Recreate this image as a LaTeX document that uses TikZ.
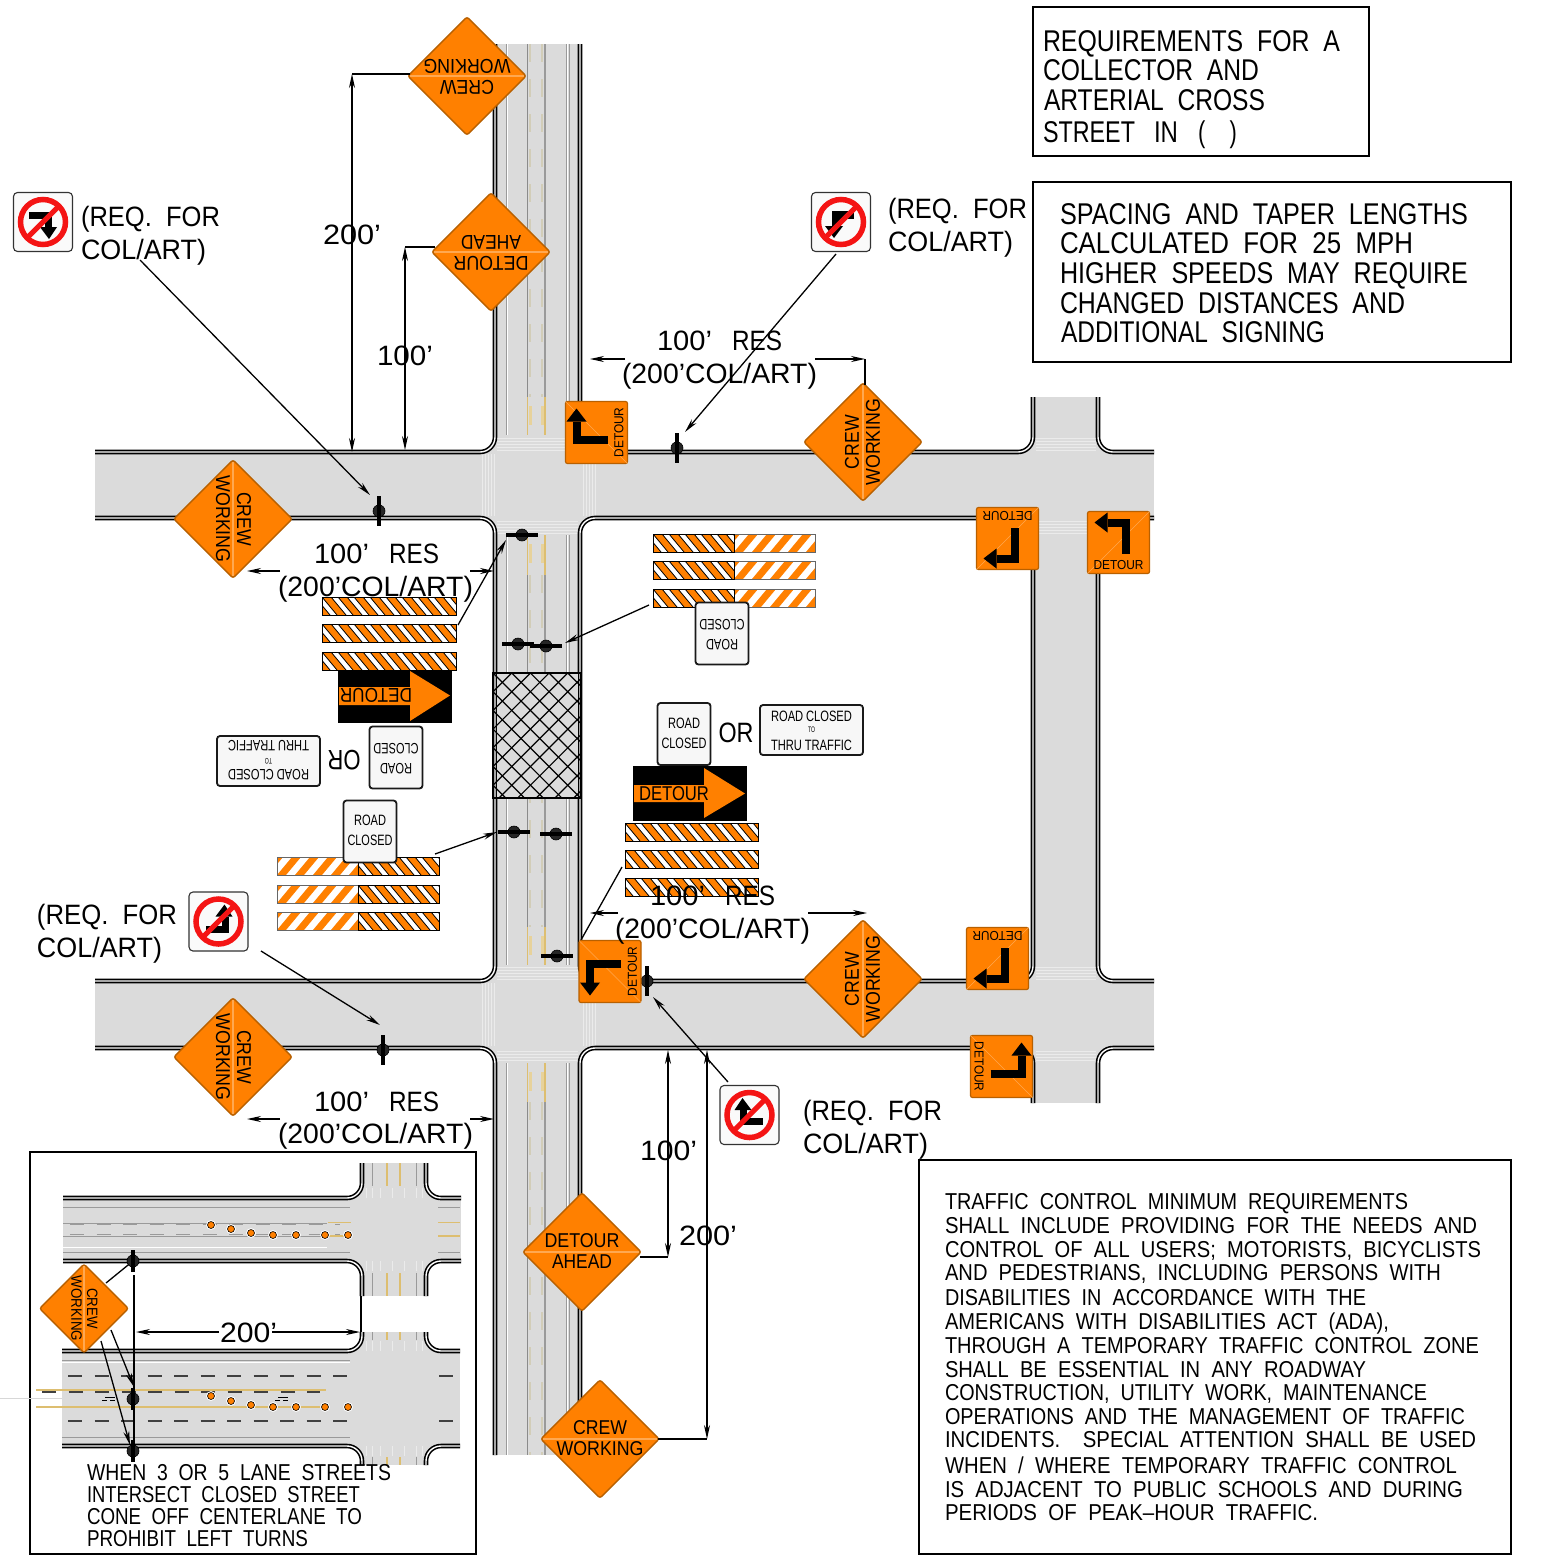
\documentclass[tikz,border=0pt]{standalone}
\usepackage{graphicx}
\usepackage{fontspec}
\setmainfont[WordSpace=2]{Liberation Sans}
\usetikzlibrary{shapes.geometric,arrows.meta,calc}
\definecolor{road}{HTML}{DBDBDB}
\definecolor{signorange}{HTML}{FF8000}
\definecolor{signedge}{HTML}{B86000}
\definecolor{signpale}{HTML}{FFA850}
\definecolor{laneyellow}{HTML}{DDBE70}
\definecolor{palelane}{HTML}{D2CDB8}
\definecolor{lanegray}{HTML}{9A9A9A}
\definecolor{ringred}{HTML}{F41414}
\newlength\cadlen
\newcommand\fitw[2]{\settowidth\cadlen{#2}\pgfmathsetmacro\cadsx{#1/\the\cadlen}\scalebox{\cadsx}[1]{#2}}
\newcommand\fsz[1]{\fontsize{#1}{#1}\selectfont}
\tikzset{
  curb/.style={draw=black,line width=1.6pt,double=white,double distance=1.4pt,rounded corners=15pt},
  frame/.style={draw=black,line width=1.4pt},
  leader/.style={draw=black,line width=1.3pt,-{Stealth[length=14pt,width=6pt]}},
  dimboth/.style={draw=black,line width=1.3pt,{Stealth[length=14pt,width=6pt]}-{Stealth[length=14pt,width=6pt]}},
  plainline/.style={draw=black,line width=1.3pt},
  tl/.style={anchor=base west,inner sep=0pt,outer sep=0pt,text=black},
  ctext/.style={anchor=center,inner sep=0pt,outer sep=0pt,text=black},
  postdot/.style={circle,fill=black!85,draw=black,line width=.6pt,minimum size=12pt,inner sep=0pt,outer sep=0pt},
  postbar/.style={draw=black,line width=3.4pt},
  diamondsign/.style={diamond,aspect=1,minimum size=119pt,inner sep=0pt,fill=signorange,draw=signedge,line width=1.4pt,rounded corners=2.5pt},
  detoursq/.style={rectangle,minimum size=62pt,inner sep=0pt,fill=signorange,draw=signedge,line width=1.2pt,rounded corners=2pt},
  whitesign/.style={rectangle,inner sep=0pt,fill=white!97!black,draw=black!90,line width=1.8pt,rounded corners=3pt},
  noentrybox/.style={rectangle,minimum size=59pt,inner sep=0pt,fill=white!98!black,draw=black!80,line width=1.1pt,rounded corners=4pt},
  cone/.style={circle,fill=signorange,draw=black,line width=.6pt,minimum size=7pt,inner sep=0pt,preaction={draw=white,line width=2.6pt}},
  graylane/.style={draw=lanegray,line width=.9pt},
  whitelane/.style={draw=white,line width=.9pt},
  fadelane/.style={draw=white,line width=.8pt,opacity=.45},
}
\newcommand\tline[6]{\node[tl] (#1) at (#2,#3) {\fsz{#5}\fitw{#4}{#6}};}
% "100' RES" label: two words at their own places
\newcommand\reslabel[3]{\node[tl] (#1a) at (#2,#3) {\fsz{28}\fitw{55}{100'}};\node[tl] (#1b) at (#2+75,#3) {\fsz{28}\fitw{50}{RES}};}
\newcommand\posth[3]{\node[postdot] (#1) at (#2,#3) {};\draw[postbar] (#2-16,#3) -- (#2+16,#3);}
\newcommand\postv[3]{\node[postdot] (#1) at (#2,#3) {};\draw[postbar] (#2,#3-15) -- (#2,#3+15);}
\newcommand\postshort[3]{\node[postdot] (#1) at (#2,#3) {};\draw[postbar] (#2,#3-11) -- (#2,#3+11);}
% corner x y dx dy : road wedge between a rounded curb and its corner point
\newcommand\fillet[4]{\fill[road] (#1,#2) -- (#1+#3,#2) .. controls (#1+.45*#3,#2) and (#1,#2+.45*#4) .. (#1,#2+#4) -- cycle;}
% name x y rot line1 w1 line2 w2 scale
\newcommand\dsign[9]{\begin{scope}[shift={(#2,#3)},rotate=#4,scale=#9,transform shape]
  \node[diamondsign] (#1) at (0,0) {};
  \draw[signpale,line width=1.6pt] (-57,0) -- (57,0);
  \node[ctext] (#1a) at (0,-11) {\fsz{20}\fitw{#6}{#5}};
  \node[ctext] (#1b) at (0,10) {\fsz{20}\fitw{#8}{#7}};
\end{scope}}
% name x y rot mirror
\newcommand\detour[5]{\begin{scope}[shift={(#2,#3)},rotate=#4,transform shape]
  \node[detoursq] (#1) at (0,0) {};
  \draw[signpale,line width=.5pt] (-31,31) -- (31,-31);
  \begin{scope}[xscale=#5]
    \draw[black,line width=8pt] (7.7,11) -- (7.7,-20) -- (-11,-20);
    \fill[black] (-24,-20) -- (-11,-30) -- (-11,-10) -- cycle;
  \end{scope}
  \node[ctext] (#1t) at (0,22.5) {\fsz{13}\fitw{50}{DETOUR}};
\end{scope}}
\newcommand\rcsign[4]{\begin{scope}[shift={(#2,#3)},rotate=#4,transform shape]
  \node[whitesign,minimum width=53pt,minimum height=62pt] (#1) at (0,0) {};
  \node[ctext] (#1a) at (0,-11) {\fsz{15}\fitw{32}{ROAD}};
  \node[ctext] (#1b) at (0,9) {\fsz{15}\fitw{45}{CLOSED}};
\end{scope}}
\newcommand\rcwide[4]{\begin{scope}[shift={(#2,#3)},rotate=#4,transform shape]
  \node[whitesign,minimum width=103pt,minimum height=50pt] (#1) at (0,0) {};
  \node[ctext] (#1a) at (0,-14) {\fsz{15}\fitw{81}{ROAD\kern .25em CLOSED}};
  \node[ctext] (#1b) at (0,0) {\fsz{8}\fitw{7}{TO}};
  \node[ctext] (#1c) at (0,15) {\fsz{15}\fitw{81}{THRU\kern .25em TRAFFIC}};
\end{scope}}
% name x y arrowcode
\newcommand\noentry[4]{\node[noentrybox] (#1) at (#2,#3) {};
  \begin{scope}[shift={(#2,#3)}]
    #4
    \draw[ringred,line width=5.5pt] (0,0) circle[radius=22.5];
    \draw[ringred,line width=5pt] (-16,16) -- (16,-16);
  \end{scope}}
% barricades
\newcommand\barblack[3]{\begin{scope}
  \clip (#1,#2) rectangle ++(#3,18);
  \fill[white] (#1,#2) rectangle ++(#3,18);
  \foreach \kk in {-2,...,10}{
    \fill[signorange] (#1+16*\kk,#2) -- ++(9,0) -- ++(15,18) -- ++(-9,0) -- cycle;
    \draw[black,line width=.8pt] (#1+16*\kk,#2) -- ++(15,18) (#1+16*\kk+9,#2) -- ++(15,18);
  }
\end{scope}}
\newcommand\barplain[3]{\begin{scope}
  \clip (#1,#2) rectangle ++(#3,18);
  \fill[white] (#1,#2) rectangle ++(#3,18);
  \foreach \kk in {-1,...,6}{
    \fill[signorange] (#1+18*\kk,#2+18) -- ++(9,0) -- ++(15,-18) -- ++(-9,0) -- cycle;
  }
\end{scope}}
\begin{document}
\begin{tikzpicture}[x=1pt,y=-1pt]
\useasboundingbox (0,0) rectangle (1543,1564);
\fill[white] (0,0) rectangle (1543,1564);
% ---- road surfaces
\fill[road] (495,44) rectangle (580,1455);
\fill[road] (95,452) rectangle (1154,518);
\fill[road] (95,981) rectangle (1154,1048);
\fill[road] (1033,397) rectangle (1098,1103);
% wedges at rounded curbs
\foreach \yy/\dd in {452/-15,518/15,981/-15,1048/15}{
  \fillet{495}{\yy}{-15}{\dd}
  \fillet{580}{\yy}{15}{\dd}
  \fillet{1033}{\yy}{-15}{\dd}
  \fillet{1098}{\yy}{15}{\dd}
}
% faint stop lines at intersections
\foreach \yy in {438,441,444,447,450,521,524,527,530,533,967,970,973,976,979,1051,1054,1057,1060}{
  \draw[fadelane] (1036,\yy) -- (1096,\yy);
  \draw[fadelane] (497,\yy) -- (578,\yy);
}
\foreach \xx in {482,485,488,491,494,583,586,589,592,595}{
  \draw[fadelane] (\xx,454) -- (\xx,516);
  \draw[fadelane] (\xx,983) -- (\xx,1046);
}
% ---- main road lane lines
\foreach \ya/\yb in {44/435,535/965,1063/1102,1102/1455}{
  \draw[graylane] (506,\ya) -- (506,\yb);
  \draw[whitelane] (507.5,\ya) -- (507.5,\yb);
  \draw[graylane] (566,\ya) -- (566,\yb);
  \draw[whitelane] (567.5,\ya) -- (567.5,\yb);
  \draw[graylane] (569,\ya) -- (569,\yb);
}
\foreach \ya/\yb in {44/397,575/927,1102/1455}{
  \draw[draw=lanegray!90!black,line width=1pt] (527.5,\ya) -- (527.5,\yb);
  \draw[draw=lanegray,line width=2pt] (545,\ya) -- (545,\yb);
  \draw[palelane,line width=2.4pt,dash pattern=on 18pt off 17pt] (530,\ya) -- (530,\yb);
  \draw[palelane,line width=2.4pt,dash pattern=on 18pt off 17pt] (542,\ya) -- (542,\yb);
}
\foreach \ya/\yb in {397/435,535/575,927/965,1063/1102}{
  \draw[laneyellow,line width=1.2pt] (527.5,\ya) -- (527.5,\yb);
  \draw[laneyellow,line width=1.4pt] (545,\ya) -- (545,\yb);
  \fill[laneyellow!70!white] (529,\ya+9) rectangle (531.5,\ya+28);
  \fill[laneyellow!70!white] (541,\ya+9) rectangle (543.5,\ya+28);
}
% ---- curbs
\draw[curb] (95,452) -- (495,452) -- (495,44);
\draw[curb] (580,44) -- (580,452) -- (1033,452) -- (1033,397);
\draw[curb] (1098,397) -- (1098,452) -- (1154,452);
\draw[curb] (95,518) -- (495,518) -- (495,981) -- (95,981);
\draw[curb] (580,518) -- (1033,518) -- (1033,981) -- (580,981) -- cycle;
\draw[curb] (1154,518) -- (1098,518) -- (1098,981) -- (1154,981);
\draw[curb] (95,1048) -- (495,1048) -- (495,1455);
\draw[curb] (580,1455) -- (580,1048) -- (1033,1048) -- (1033,1103);
\draw[curb] (1098,1103) -- (1098,1048) -- (1154,1048);
% ---- work zone hatch (drawn over the curbs)
\begin{scope}
  \clip (493,673) rectangle (581,798);
  \fill[road] (497,673) rectangle (578,798);
  \foreach \kk in {-6,...,12}{
    \draw[black,line width=1.2pt] (493,673+18.7*\kk) -- ++(90,90);
    \draw[black,line width=1.2pt] (493,673+18.7*\kk) -- ++(90,-90);
  }
\end{scope}
\draw[black,line width=1.8pt] (493,673) rectangle (581,798);
% ---- posts
\postv{pA}{379}{511}
\postv{pB}{677}{448}
\posth{pC}{522}{535}
\posth{pD}{518}{644}
\posth{pE}{546}{646}
\posth{pF}{514}{832}
\posth{pG}{556}{834}
\posth{pH}{557}{956}
\postv{pI}{647}{981}
\postv{pJ}{383}{1050}
% ---- barricades
\foreach \yy in {597,624,652}{ \barblack{322}{\yy}{134} \draw[black,line width=1pt] (322,\yy) rectangle ++(134,18); }
\foreach \yy in {823,850,878}{ \barblack{625}{\yy}{133} \draw[black,line width=1pt] (625,\yy) rectangle ++(133,18); }
\foreach \yy in {534,561,589}{ \barblack{653}{\yy}{81} \barplain{734}{\yy}{81} \draw[black!60,line width=.9pt] (734,\yy) rectangle ++(81,18); \draw[black,line width=1pt] (653,\yy) rectangle ++(81,18); }
\foreach \yy in {857,885,912}{ \barplain{277}{\yy}{81} \barblack{358}{\yy}{81} \draw[black!60,line width=.9pt] (277,\yy) rectangle ++(81,18); \draw[black,line width=1pt] (358,\yy) rectangle ++(81,18); }
% ---- arrow panels
\node[rectangle,fill=black,minimum width=114pt,minimum height=53pt,inner sep=0pt] (panelL) at (395,696.5) {};
\fill[signorange] (339,687) -- (410,687) -- (410,671) -- (450,695.5) -- (410,721) -- (410,705) -- (339,705) -- cycle;
\node[ctext,rotate=180] (panelLt) at (376,695.5) {\fsz{20}\fitw{72}{DETOUR}};
\node[rectangle,fill=black,minimum width=114pt,minimum height=55pt,inner sep=0pt] (panelR) at (690,793.5) {};
\fill[signorange] (634,785) -- (704,785) -- (704,768) -- (745,793.5) -- (704,818) -- (704,802) -- (634,802) -- cycle;
\node[ctext] (panelRt) at (674,793.5) {\fsz{20}\fitw{70}{DETOUR}};
% ---- white signs
\rcsign{rcA}{684}{734}{0}
\rcwide{rcB}{811.5}{730}{0}
\rcsign{rcC}{396}{757.5}{180}
\rcwide{rcD}{268.5}{761}{180}
\rcsign{rcE}{370}{831.5}{0}
\rcsign{rcF}{722}{633.5}{180}
\node[ctext] (orR) at (736,733) {\fsz{28}\fitw{35}{OR}};
\node[ctext,rotate=180] (orL) at (344,760) {\fsz{28}\fitw{33}{OR}};
% ---- leaders
\coordinate (lA) at (140,260);
\draw[leader] (lA) -- ($(pA)+(-9,-16)$);
\coordinate (lB) at (836,254);
\draw[leader] (lB) -- ($(pB)+(8,-16)$);
\coordinate (lC) at (458,625);
\draw[leader] (lC) -- ($(pC)+(-16,5)$);
\coordinate (lE) at (649,605);
\draw[leader] (lE) -- ($(pE)+(19,-3)$);
\coordinate (lF) at (435,854);
\draw[leader] (lF) -- ($(pF)+(-17,0)$);
\coordinate (lH) at (622,867);
\draw[plainline] (lH) -- ($(pH)+(24,-16)$);
\coordinate (lJ) at (261,951);
\draw[leader] (lJ) -- ($(pJ)+(-3,-25)$);
\coordinate (lI) at (728,1082);
\draw[leader] (lI) -- ($(pI)+(6,16)$);
% ---- detour squares
\detour{dA}{596.5}{432.5}{90}{-1}
\detour{dB}{1007.5}{538.5}{180}{-1}
\detour{dC}{1118.5}{542.5}{0}{1}
\detour{dD}{997.5}{958.5}{180}{-1}
\detour{dE}{1001.5}{1066.5}{-90}{1}
\detour{dF}{610}{971.5}{90}{1}
% ---- diamonds
\dsign{cwA}{467}{76}{180}{CREW}{54}{WORKING}{87}{1}
\dsign{daA}{491}{252}{180}{DETOUR}{75}{AHEAD}{60}{1}
\dsign{cwB}{863}{442}{90}{CREW}{54}{WORKING}{87}{1}
\dsign{cwC}{233}{519}{-90}{CREW}{54}{WORKING}{87}{1}
\dsign{cwD}{863}{979}{90}{CREW}{54}{WORKING}{87}{1}
\dsign{cwE}{233}{1057}{-90}{CREW}{54}{WORKING}{87}{1}
\dsign{daB}{582}{1252}{0}{DETOUR}{75}{AHEAD}{60}{1}
\dsign{cwF}{600}{1439}{0}{CREW}{54}{WORKING}{87}{1}
% ---- dimensions
\coordinate (dim200t) at (352,74); \coordinate (dim200b) at (352,452); \coordinate (dim200e) at (410,74);
\draw[plainline] (dim200e) -- (dim200t);
\draw[dimboth] (dim200t) -- (dim200b);
\coordinate (dim100t) at (405,247); \coordinate (dim100b) at (405,450); \coordinate (dim100e) at (435,247);
\draw[plainline] (dim100e) -- (dim100t);
\draw[dimboth] (dim100t) -- (dim100b);
\coordinate (lo100t) at (668,1050); \coordinate (lo100b) at (668,1257); \coordinate (lo100e) at (640,1257);
\draw[plainline] (lo100e) -- (lo100b);
\draw[dimboth] (lo100t) -- (lo100b);
\coordinate (lo200t) at (707,1050); \coordinate (lo200b) at (707,1439); \coordinate (lo200e) at (658,1439);
\draw[plainline] (lo200e) -- (lo200b);
\draw[dimboth] (lo200t) -- (lo200b);
% offset arrows
\coordinate (a1s) at (625,359); \coordinate (a1e) at (590,359);
\draw[leader] (a1s) -- (a1e);
\coordinate (a2s) at (815,359); \coordinate (a2e) at (865,359); \coordinate (a2d) at (865,385);
\draw[leader] (a2s) -- (a2e);
\draw[plainline] (a2e) -- (a2d);
\coordinate (a3s) at (280,571); \coordinate (a3e) at (247,571);
\draw[leader] (a3s) -- (a3e);
\coordinate (a4s) at (470,571); \coordinate (a4e) at (494,571);
\draw[leader] (a4s) -- (a4e);
\coordinate (a5s) at (280,1119); \coordinate (a5e) at (247,1119);
\draw[leader] (a5s) -- (a5e);
\coordinate (a6s) at (470,1119); \coordinate (a6e) at (494,1119);
\draw[leader] (a6s) -- (a6e);
\coordinate (a7s) at (618,913); \coordinate (a7e) at (590,913);
\draw[leader] (a7s) -- (a7e);
\coordinate (a8s) at (808,913); \coordinate (a8e) at (867,913);
\draw[leader] (a8s) -- (a8e);
% ---- no-entry signs
\noentry{neA}{43}{222}{\fill[black] (-14,-10) rectangle (9,-3); \fill[black] (2,-10) rectangle (9,5); \fill[black] (-3,5) -- (14,5) -- (6,17) -- cycle;}
\noentry{neB}{841}{222}{\fill[black] (-9,-11) rectangle (13,-3); \fill[black] (-9,-11) rectangle (-1,4); \fill[black] (-16,4) -- (2,4) -- (-7,16) -- cycle;}
\noentry{neC}{218.5}{921.5}{\fill[black] (-13,4) rectangle (10,11); \fill[black] (3,-5) rectangle (10,11); \fill[black] (-3,-5) -- (14,-5) -- (6,-17) -- cycle;}
\noentry{neD}{749.5}{1115}{\fill[black] (-10,3) rectangle (13,10); \fill[black] (-10,-5) rectangle (-3,10); \fill[black] (-15,-5) -- (2,-5) -- (-7,-17) -- cycle;}
% ---- notes
\draw[frame] (1033,7) rectangle (1369,156);
\tline{r1}{1043}{51}{297}{30}{REQUIREMENTS FOR A}
\tline{r2}{1043}{80}{216}{30}{COLLECTOR AND}
\tline{r3}{1044}{110}{221}{30}{ARTERIAL CROSS}
\tline{r4a}{1043}{142}{92}{30}{STREET}
\tline{r4b}{1154}{142}{24}{30}{IN}
\tline{r4c}{1198}{142}{39}{30}{(\ \ )}
\draw[frame] (1033,182) rectangle (1511,362);
\tline{s1}{1060}{224}{408}{30}{SPACING AND TAPER LENGTHS}
\tline{s2}{1060}{253}{353}{30}{CALCULATED FOR 25 MPH}
\tline{s3}{1060}{283}{408}{30}{HIGHER SPEEDS MAY REQUIRE}
\tline{s4}{1060}{313}{345}{30}{CHANGED DISTANCES AND}
\tline{s5}{1061}{342}{264}{30}{ADDITIONAL SIGNING}
\draw[frame] (919,1160) rectangle (1511,1554);
\tline{t1}{945}{1209}{463}{23}{TRAFFIC CONTROL MINIMUM REQUIREMENTS}
\tline{t2}{945}{1233}{532}{23}{SHALL INCLUDE PROVIDING FOR THE NEEDS AND}
\tline{t3}{945}{1257}{536}{23}{CONTROL OF ALL USERS; MOTORISTS, BICYCLISTS}
\tline{t4}{945}{1280}{496}{23}{AND PEDESTRIANS, INCLUDING PERSONS WITH}
\tline{t5}{945}{1305}{421}{23}{DISABILITIES IN ACCORDANCE WITH THE}
\tline{t6}{945}{1329}{444}{23}{AMERICANS WITH DISABILITIES ACT (ADA),}
\tline{t7}{945}{1353}{534}{23}{THROUGH A TEMPORARY TRAFFIC CONTROL ZONE}
\tline{t8}{945}{1377}{421}{23}{SHALL BE ESSENTIAL IN ANY ROADWAY}
\tline{t9}{945}{1400}{482}{23}{CONSTRUCTION, UTILITY WORK, MAINTENANCE}
\tline{t10}{945}{1424}{520}{23}{OPERATIONS AND THE MANAGEMENT OF TRAFFIC}
\tline{t11}{945}{1447}{531}{23}{INCIDENTS.\ \ SPECIAL ATTENTION SHALL BE USED}
\tline{t12}{945}{1473}{512}{23}{WHEN / WHERE TEMPORARY TRAFFIC CONTROL}
\tline{t13}{945}{1497}{518}{23}{IS ADJACENT TO PUBLIC SCHOOLS AND DURING}
\tline{t14}{945}{1520}{373}{23}{PERIODS OF PEAK–HOUR TRAFFIC.}
% ---- labels
\tline{q1}{81}{226}{139}{28}{(REQ. FOR}
\tline{q2}{81}{259}{125}{28}{COL/ART)}
\tline{q3}{888}{218}{139}{28}{(REQ. FOR}
\tline{q4}{888}{251}{125}{28}{COL/ART)}
\tline{q5}{37}{924}{140}{28}{(REQ. FOR}
\tline{q6}{37}{957}{125}{28}{COL/ART)}
\tline{q7}{803}{1120}{139}{28}{(REQ. FOR}
\tline{q8}{803}{1153}{125}{28}{COL/ART)}
\reslabel{m1}{657}{350}
\tline{m2}{622}{383}{195}{28}{(200'COL/ART)}
\reslabel{m3}{314}{563}
\tline{m4}{278}{596}{195}{28}{(200'COL/ART)}
\reslabel{m5}{314}{1111}
\tline{m6}{278}{1143}{195}{28}{(200'COL/ART)}
\reslabel{m7}{650}{905}
\tline{m8}{615}{938}{195}{28}{(200'COL/ART)}
\tline{d1}{323}{244}{58}{28}{200'}
\tline{d2}{377}{365}{56}{28}{100'}
\tline{d3}{640}{1160}{57}{28}{100'}
\tline{d4}{679}{1245}{58}{28}{200'}
% ---- inset
\draw[frame] (30,1152) rectangle (476,1554);
\fill[road] (63,1198) rectangle (461,1261);
\fill[road] (362,1163) rectangle (426,1296);
\fill[road] (62,1351) rectangle (460,1446);
\fill[road] (362,1332) rectangle (426,1465);
\foreach \yy/\dd in {1198/-15,1261/15,1351/-15,1446/15}{
  \fillet{362}{\yy}{-15}{\dd}
  \fillet{426}{\yy}{15}{\dd}
}
% inset faint stop lines
\foreach \xx in {366,372,380,392,404,416,422}{
  \draw[fadelane] (\xx,1188) -- (\xx,1198);
  \draw[fadelane] (\xx,1261) -- (\xx,1271);
  \draw[fadelane] (\xx,1341) -- (\xx,1351);
  \draw[fadelane] (\xx,1446) -- (\xx,1456);
}
% inset upper markings
\draw[graylane] (63,1207) -- (350,1207) (63,1252) -- (350,1252) (63,1223) -- (327,1223) (63,1236) -- (327,1236);
\draw[whitelane] (63,1247) -- (327,1247);
\draw[draw=lanegray,line width=1.2pt,dash pattern=on 14pt off 12.5pt] (70,1224.5) -- (340,1224.5) (70,1234.5) -- (340,1234.5);
\draw[laneyellow,line width=1.2pt] (328,1222.5) -- (351,1222.5) (328,1236) -- (351,1236) (438,1222.5) -- (460,1222.5) (438,1236) -- (460,1236);
\draw[graylane] (438,1207) -- (460,1207) (438,1252) -- (460,1252);
\foreach \xx in {372,416}{
  \draw[graylane] (\xx,1163) -- (\xx,1186) (\xx,1273) -- (\xx,1296) (\xx,1332) -- (\xx,1340) (\xx,1457) -- (\xx,1465);
}
\foreach \xx in {387,400}{
  \draw[laneyellow,line width=1.2pt] (\xx,1163) -- (\xx,1186) (\xx,1273) -- (\xx,1296) (\xx,1332) -- (\xx,1340) (\xx,1457) -- (\xx,1465);
}
% inset lower markings
\draw[graylane] (62,1360) -- (350,1360) (62,1437) -- (350,1437);
\draw[whitelane] (62,1362) -- (350,1362);
\draw[draw=black!75,line width=1.6pt,dash pattern=on 14pt off 12.5pt] (68,1376) -- (347,1376) (68,1421) -- (347,1421) (42,1392) -- (320,1392) (42,1407) -- (320,1407);
\draw[draw=black!75,line width=1.6pt] (439,1376) -- (453,1376) (439,1421) -- (453,1421);
\draw[laneyellow,line width=1.2pt] (36,1390) -- (326,1390) (36,1407) -- (326,1407);
\draw[draw=lanegray!40,line width=1pt] (0,1398) -- (62,1398);
\foreach \xx in {108,281}{
  \draw[black,line width=.9pt] (\xx-6,1400) -- (\xx-1,1400) (\xx+2,1400) -- (\xx+7,1400) (\xx-3,1397) -- (\xx+7,1397);
}
% inset curbs
\draw[curb] (63,1198) -- (362,1198) -- (362,1163);
\draw[curb] (426,1163) -- (426,1198) -- (461,1198);
\draw[curb] (63,1261) -- (362,1261) -- (362,1296);
\draw[curb] (426,1296) -- (426,1261) -- (461,1261);
\draw[curb] (62,1351) -- (362,1351) -- (362,1332);
\draw[curb] (426,1332) -- (426,1351) -- (460,1351);
\draw[curb] (62,1446) -- (362,1446) -- (362,1465);
\draw[curb] (426,1465) -- (426,1446) -- (460,1446);
\coordinate (joinA) at (361,1296); \coordinate (joinB) at (361,1332);
\draw[draw=black,line width=1.5pt] (joinA) -- (joinB);
% inset cones
\foreach \cx/\cy [count=\ci] in {211/1225,231/1229,251/1233,273/1235,296/1235,325/1235,348/1235}{\node[cone] (cu\ci) at (\cx,\cy) {};}
\foreach \cx/\cy [count=\ci] in {211/1396,231/1401,251/1405,273/1407,296/1407,325/1407,348/1407}{\node[cone] (cl\ci) at (\cx,\cy) {};}
% inset posts
\postshort{iA}{133}{1261}
\postshort{iB}{133}{1399}
\postshort{iC}{133}{1451}
\coordinate (iLs) at (134,1275); \coordinate (iLe) at (134,1460);
\draw[plainline] (iLs) -- (iLe);
\dsign{cwI}{84}{1308.5}{-90}{CREW}{54}{WORKING}{87}{.75}
\coordinate (i1) at (106,1283);
\draw[plainline] (i1) -- (iA);
\coordinate (i2) at (111,1330);
\draw[leader] (i2) -- ($(iB)+(1,-12)$);
\coordinate (i3) at (101,1341);
\draw[leader] (i3) -- ($(iC)+(-3,-6)$);
\coordinate (i4s) at (219,1332); \coordinate (i4e) at (136,1332);
\draw[leader] (i4s) -- (i4e);
\coordinate (i5s) at (272,1332); \coordinate (i5e) at (360,1332);
\draw[leader] (i5s) -- (i5e);
\tline{d5}{220}{1342}{57}{28}{200'}
\tline{u1}{87}{1480}{304}{23}{WHEN 3 OR 5 LANE STREETS}
\tline{u2}{87}{1502}{273}{23}{INTERSECT CLOSED STREET}
\tline{u3}{87}{1524}{275}{23}{CONE OFF CENTERLANE TO}
\tline{u4}{87}{1546}{221}{23}{PROHIBIT LEFT TURNS}
\end{tikzpicture}
\end{document}
